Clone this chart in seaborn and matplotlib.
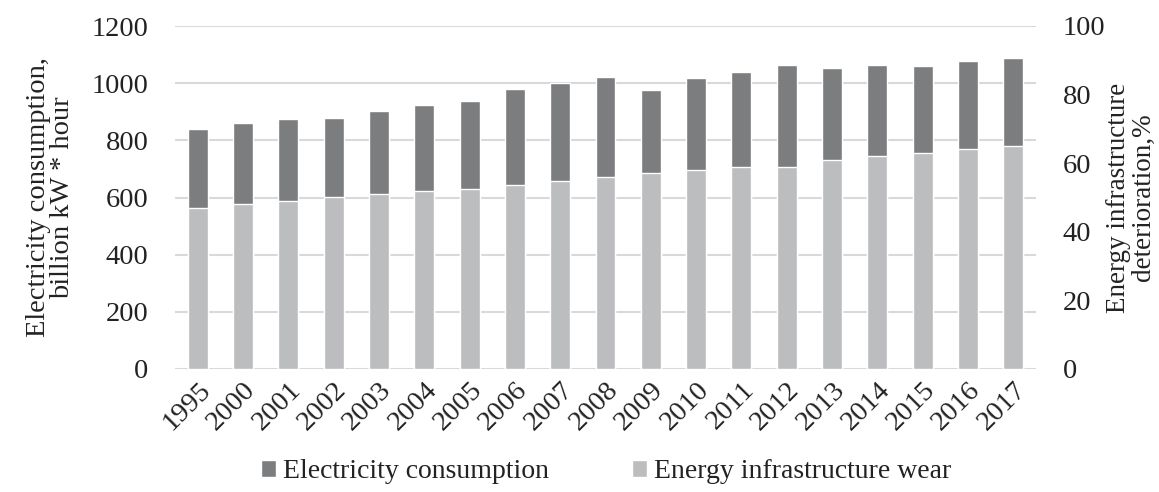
import matplotlib
matplotlib.use("Agg")
import matplotlib.pyplot as plt
import seaborn as sns
import pandas as pd
from matplotlib.patches import Patch

years = ["1995", "2000", "2001", "2002", "2003", "2004", "2005", "2006", "2007", "2008",
         "2009", "2010", "2011", "2012", "2013", "2014", "2015", "2016", "2017"]
consumption = [839, 862, 874, 877, 902, 922, 939, 978, 1002, 1021,
               975, 1019, 1039, 1062, 1054, 1064, 1059, 1076, 1089]
wear = [47, 48, 49, 50, 51, 52, 52.5, 53.5, 54.7, 56,
        57, 58, 59, 59, 61, 62, 63, 64, 65]

dark = "#7c7d7f"
light = "#bcbdbf"
grid = "#d9d9d9"
txt = "#222222"

sns.set_theme(style="white")
plt.rcParams["font.family"] = ["Liberation Serif", "DejaVu Serif"]

df = pd.DataFrame({"year": years, "cons": consumption, "wear": wear})

fig = plt.figure(figsize=(11.59, 4.92), dpi=100)
ax = fig.add_axes([175 / 1159, 1 - 369 / 492, (1036 - 175) / 1159, (369 - 26) / 492])
ax2 = ax.twinx()

sns.barplot(data=df, x="year", y="cons", color=dark, width=0.44, saturation=1, ax=ax)
sns.barplot(data=df, x="year", y="wear", color=light, width=0.44, saturation=1, ax=ax2)

ax.set_ylim(0, 1200)
ax2.set_ylim(0, 100)
ax.set_yticks(range(0, 1201, 200))
ax2.set_yticks(range(0, 101, 20))
ax.set_xlim(-0.5, len(years) - 0.5)

ax.yaxis.grid(True, color=grid, linewidth=1.5)
ax.set_axisbelow(True)
ax2.patch.set_visible(False)

for a in (ax, ax2):
    for s in a.spines.values():
        s.set_visible(False)
    a.tick_params(length=0, labelsize=20.5, colors=txt)

ax.tick_params(axis="y", pad=19)
ax2.tick_params(axis="y", pad=19)
ax.tick_params(axis="x", pad=6)
ax.set_xticks(range(len(years)))
ax.set_xticklabels(years, rotation=45, ha="right", rotation_mode="anchor", fontsize=20.5)

ax.set_xlabel("")
ax.set_ylabel("Electricity consumption,\nbillion kW * hour", fontsize=20.5, color=txt,
              linespacing=0.95, labelpad=12)
ax2.set_ylabel("Energy infrastructure\ndeterioration,%", fontsize=19.5, color=txt,
               linespacing=0.95, labelpad=1)

handles = [Patch(facecolor=dark, label="Electricity consumption"),
           Patch(facecolor=light, label="Energy infrastructure wear")]
fig.legend(handles=handles, loc="lower center", bbox_to_anchor=(0.523, -0.035), ncol=2,
           frameon=False, fontsize=20, handlelength=0.55, handleheight=0.55,
           handletextpad=0.25, columnspacing=3.0, labelcolor=txt)

fig.savefig("out.png", dpi=100)
